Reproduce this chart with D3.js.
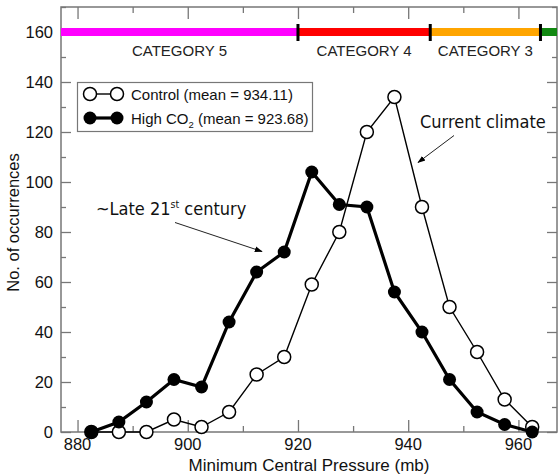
<!DOCTYPE html>
<html>
<head>
<meta charset="utf-8">
<script src="https://cdn.jsdelivr.net/npm/d3@7"></script>
<style>
  body { margin: 0; background: #fff; }
  svg { display: block; }
</style>
</head>
<body>
<svg id="chart" width="558" height="474"></svg>
<script>
// Pressure bins (mb) and counts
const pressure = [882.5, 887.5, 892.5, 897.5, 902.5, 907.5, 912.5, 917.5, 922.5,
                  927.5, 932.5, 937.5, 942.5, 947.5, 952.5, 957.5, 962.5];
const control = [0, 0, 0, 5, 2, 8, 23, 30, 59, 80, 120, 134, 90, 50, 32, 13, 2];
const highCO2 = [0, 4, 12, 21, 18, 44, 64, 72, 104, 91, 90, 56, 40, 21, 8, 3, 0];

const xTicks = [880, 900, 920, 940, 960];
const yTicks = [0, 20, 40, 60, 80, 100, 120, 140, 160];

// Saffir-Simpson bands drawn at y = 160
const catBounds = [877, 920, 944, 964, 967];
const catNames = ['CATEGORY 5', 'CATEGORY 4', 'CATEGORY 3', ''];
const catColors = ['#ff00ff', '#ff0000', '#ffa500', '#118811'];

const svg = d3.select('#chart');
const pLeft = 61, pRight = 557, pTop = 7, pBottom = 432;

const x = d3.scaleLinear().domain([877, 967]).range([pLeft, pRight]);
const y = d3.scaleLinear().domain([0, 170]).range([pBottom, pTop]);

const axisColor = '#777';
const textColor = '#111';
const font = 'Liberation Sans, Arial, Helvetica, sans-serif';

// Ticks (inward, both sides)
function tickAxis(axis, len) {
    return axis.tickSize(len).tickFormat('').tickSizeOuter(0);
}
const majX = d3.range(880, 961, 20), minX = d3.range(890, 961, 20);
const majY = d3.range(0, 171, 20), minY = d3.range(10, 171, 20);

svg.append('g').attr('transform', `translate(0,${pBottom})`)
    .call(tickAxis(d3.axisTop(x).tickValues(majX), 12));
svg.append('g').attr('transform', `translate(0,${pBottom})`)
    .call(tickAxis(d3.axisTop(x).tickValues(minX), 6));
svg.append('g').attr('transform', `translate(0,${pTop})`)
    .call(tickAxis(d3.axisBottom(x).tickValues(majX), 12));
svg.append('g').attr('transform', `translate(0,${pTop})`)
    .call(tickAxis(d3.axisBottom(x).tickValues(minX), 6));
svg.append('g').attr('transform', `translate(${pLeft},0)`)
    .call(tickAxis(d3.axisRight(y).tickValues(majY), 10));
svg.append('g').attr('transform', `translate(${pLeft},0)`)
    .call(tickAxis(d3.axisRight(y).tickValues(minY), 5));
svg.append('g').attr('transform', `translate(${pRight},0)`)
    .call(tickAxis(d3.axisLeft(y).tickValues(majY), 10));
svg.append('g').attr('transform', `translate(${pRight},0)`)
    .call(tickAxis(d3.axisLeft(y).tickValues(minY), 5));

svg.selectAll('.domain').remove();
svg.selectAll('.tick line').attr('stroke', axisColor).attr('stroke-width', 1.3);

// Frame
svg.append('rect')
    .attr('x', pLeft).attr('y', pTop)
    .attr('width', pRight - pLeft).attr('height', pBottom - pTop)
    .attr('fill', 'none').attr('stroke', axisColor).attr('stroke-width', 1.5);

// Tick labels
svg.append('g').selectAll('text')
    .data(xTicks)
    .join('text')
    .attr('x', d => x(d))
    .attr('y', 450)
    .attr('text-anchor', 'middle')
    .attr('font-family', font)
    .attr('font-size', 16.5)
    .attr('fill', textColor)
    .text(d => d);

svg.append('g').selectAll('text')
    .data(yTicks)
    .join('text')
    .attr('x', 53)
    .attr('y', d => y(d) + 6)
    .attr('text-anchor', 'end')
    .attr('font-family', font)
    .attr('font-size', 16.5)
    .attr('fill', textColor)
    .text(d => d);

// Axis titles
svg.append('text')
    .attr('x', (pLeft + pRight) / 2)
    .attr('y', 471)
    .attr('text-anchor', 'middle')
    .attr('font-family', font)
    .attr('font-size', 17)
    .attr('fill', textColor)
    .text('Minimum Central Pressure (mb)');

svg.append('text')
    .attr('transform', `translate(19,${(pTop + pBottom) / 2 + 3}) rotate(-90)`)
    .attr('text-anchor', 'middle')
    .attr('font-family', font)
    .attr('font-size', 16.5)
    .attr('fill', textColor)
    .text('No. of occurrences');

// Category bar
const cats = catNames.map((name, i) => ({
    name, color: catColors[i], x0: catBounds[i], x1: catBounds[i + 1]
}));

svg.append('g').selectAll('line')
    .data(cats)
    .join('line')
    .attr('x1', d => x(d.x0))
    .attr('x2', d => x(d.x1))
    .attr('y1', y(160))
    .attr('y2', y(160))
    .attr('stroke', d => d.color)
    .attr('stroke-width', 8);

svg.append('g').selectAll('rect')
    .data(catBounds.slice(1, 4))
    .join('rect')
    .attr('x', d => x(d) - 1.5)
    .attr('y', y(160) - 8)
    .attr('width', 3)
    .attr('height', 17)
    .attr('fill', '#000');

svg.append('g').selectAll('text')
    .data(cats.filter(d => d.name))
    .join('text')
    .attr('x', d => (x(d.x0) + x(d.x1)) / 2)
    .attr('y', 56)
    .attr('text-anchor', 'middle')
    .attr('font-family', font)
    .attr('font-size', 15)
    .attr('fill', '#222')
    .text(d => d.name);

// Series
const ctrlPts = pressure.map((p, i) => ({ p, v: control[i] }));
const co2Pts = pressure.map((p, i) => ({ p, v: highCO2[i] }));
const line = d3.line().x(d => x(d.p)).y(d => y(d.v));

svg.append('path')
    .datum(ctrlPts)
    .attr('d', line)
    .attr('fill', 'none')
    .attr('stroke', '#000')
    .attr('stroke-width', 1.4);

svg.append('path')
    .datum(co2Pts)
    .attr('d', line)
    .attr('fill', 'none')
    .attr('stroke', '#000')
    .attr('stroke-width', 3.2);

svg.append('g').selectAll('circle')
    .data(ctrlPts)
    .join('circle')
    .attr('cx', d => x(d.p))
    .attr('cy', d => y(d.v))
    .attr('r', 6.5)
    .attr('fill', '#fff')
    .attr('stroke', '#000')
    .attr('stroke-width', 1.5);

svg.append('g').selectAll('circle')
    .data(co2Pts)
    .join('circle')
    .attr('cx', d => x(d.p))
    .attr('cy', d => y(d.v))
    .attr('r', 6.5)
    .attr('fill', '#000');

// Legend
const legend = svg.append('g');
legend.append('rect')
    .attr('x', 77.5).attr('y', 82.5)
    .attr('width', 235).attr('height', 49)
    .attr('fill', '#fff')
    .attr('stroke', axisColor)
    .attr('stroke-width', 1.2);

legend.append('line')
    .attr('x1', 90).attr('x2', 117).attr('y1', 94).attr('y2', 94)
    .attr('stroke', '#000').attr('stroke-width', 1.4);
legend.append('g').selectAll('circle')
    .data([90, 117])
    .join('circle')
    .attr('cx', d => d).attr('cy', 94).attr('r', 6.5)
    .attr('fill', '#fff').attr('stroke', '#000').attr('stroke-width', 1.5);

legend.append('line')
    .attr('x1', 90).attr('x2', 117).attr('y1', 118).attr('y2', 118)
    .attr('stroke', '#000').attr('stroke-width', 3.2);
legend.append('g').selectAll('circle')
    .data([90, 117])
    .join('circle')
    .attr('cx', d => d).attr('cy', 118).attr('r', 6.5)
    .attr('fill', '#000');

legend.append('text')
    .attr('x', 131).attr('y', 99.5)
    .attr('font-family', font).attr('font-size', 15).attr('fill', textColor)
    .text('Control (mean = 934.11)');

const t2 = legend.append('text')
    .attr('x', 131).attr('y', 123.5)
    .attr('font-family', font).attr('font-size', 15).attr('fill', textColor);
t2.append('tspan').text('High CO');
t2.append('tspan').attr('font-size', 9.5).attr('dy', 4).text('2');
t2.append('tspan').attr('dy', -4).text(' (mean = 923.68)');

// Annotations
const annFont = 'DejaVu Sans Condensed, DejaVu Sans, sans-serif';
svg.append('defs').append('marker')
    .attr('id', 'head')
    .attr('viewBox', '0 0 10 10')
    .attr('refX', 9).attr('refY', 5)
    .attr('markerWidth', 8).attr('markerHeight', 8)
    .attr('orient', 'auto')
    .append('path')
    .attr('d', 'M0,1.5 L10,5 L0,8.5 Z')
    .attr('fill', '#000');

svg.append('text')
    .attr('x', 420).attr('y', 128)
    .attr('font-family', annFont).attr('font-size', 18).attr('fill', textColor)
    .text('Current climate');

svg.append('line')
    .attr('x1', 454).attr('y1', 135.5)
    .attr('x2', 418).attr('y2', 162.5)
    .attr('stroke', '#222').attr('stroke-width', 1)
    .attr('marker-end', 'url(#head)');

const late = svg.append('text')
    .attr('x', 96).attr('y', 215)
    .attr('font-family', annFont).attr('font-size', 18).attr('fill', textColor);
late.append('tspan').text('~Late 21');
late.append('tspan').attr('font-size', 10.5).attr('dy', -7).text('st');
late.append('tspan').attr('dy', 7).text(' century');

svg.append('line')
    .attr('x1', 175).attr('y1', 222.5)
    .attr('x2', 262).attr('y2', 251.5)
    .attr('stroke', '#222').attr('stroke-width', 1)
    .attr('marker-end', 'url(#head)');
</script>
</body>
</html>
